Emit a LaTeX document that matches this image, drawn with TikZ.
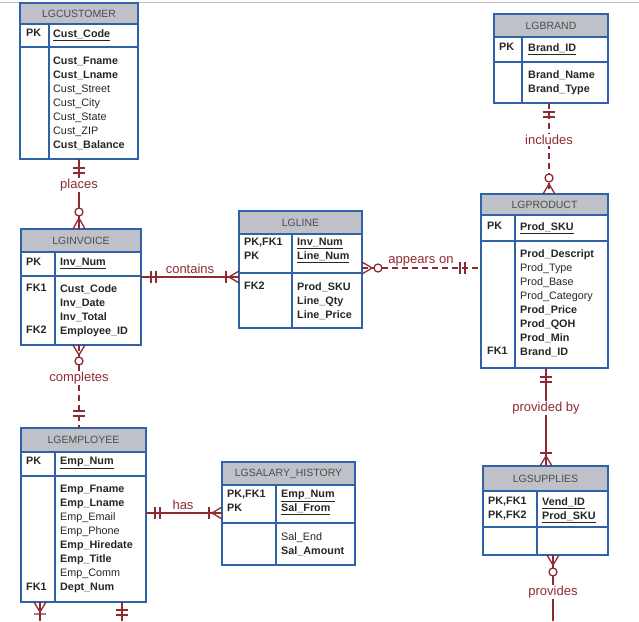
\documentclass[tikz,border=0pt]{standalone}
\usepackage{fontspec}
\setmainfont{Liberation Sans}
\begin{document}
\begin{tikzpicture}[x=1pt,y=-1pt,
  tbl/.style={draw=tblue,line width=1.2pt},
  hdr/.style={tbl,fill=hgray},
  ttl/.style={text=black!70,font=\fontsize{10.5}{12}\selectfont},
  att/.style={anchor=north west,inner sep=0pt,align=left,text=black!85,
              font=\fontsize{10.8}{14}\selectfont},
  rel/.style={draw=rred,line width=1.6pt},
  dsh/.style={rel,dash pattern=on 6pt off 4pt},
  mk/.style={draw=rred,line width=1.3pt},
  lbl/.style={text=rred,font=\fontsize{13}{15}\selectfont,inner sep=1pt}]
\definecolor{tblue}{HTML}{2F62A8}
\definecolor{hgray}{HTML}{BEC2C8}
\definecolor{rred}{HTML}{8E2B32}
\useasboundingbox (0,0) rectangle (639,621);
\draw[black!25] (0,2) -- (639,2);

% table: name, x1, x2, ytop, yhead, ypk, ybottom, xdiv, title
\newcommand\ertab[9]{%
  \draw[hdr] (#2,#4) rectangle (#3,#5);
  \node[ttl] (#1-t) at ({(#2+#3)/2},{(#4+#5)/2}) {#9};
  \draw[tbl] (#2,#5) rectangle (#3,#7);
  \draw[tbl] (#2,#6) -- (#3,#6) (#8,#5) -- (#8,#7);
  \coordinate (#1-n) at ({(#2+#3)/2},#4);
  \coordinate (#1-s) at ({(#2+#3)/2},#7);}
\newcommand\ul[1]{\underline{#1}}

% LGCUSTOMER
\ertab{cus}{20}{138}{3}{24}{47}{159}{49}{LGCUSTOMER}
\node[att] (cus-pk) at (26,29) {\textbf{PK}};
\node[att] (cus-k) at (53,29) {\textbf{\ul{Cust\_Code}}};
\node[att] (cus-b) at (53,57) {\textbf{Cust\_Fname}\\\textbf{Cust\_Lname}\\Cust\_Street\\Cust\_City\\Cust\_State\\Cust\_ZIP\\\textbf{Cust\_Balance}};

% LGBRAND
\ertab{bra}{494}{608}{14}{37}{62}{103}{522}{LGBRAND}
\node[att] (bra-pk) at (499,43) {\textbf{PK}};
\node[att] (bra-k) at (528,43) {\textbf{\ul{Brand\_ID}}};
\node[att] (bra-b) at (528,70) {\textbf{Brand\_Name}\\\textbf{Brand\_Type}};

% LGPRODUCT
\ertab{pro}{481}{608}{194}{215}{241}{368}{515}{LGPRODUCT}
\node[att] (pro-pk) at (487,222) {\textbf{PK}};
\node[att] (pro-k) at (520,222) {\textbf{\ul{Prod\_SKU}}};
\node[att] (pro-b) at (520,249) {\textbf{Prod\_Descript}\\Prod\_Type\\Prod\_Base\\Prod\_Category\\\textbf{Prod\_Price}\\\textbf{Prod\_QOH}\\\textbf{Prod\_Min}\\\textbf{Brand\_ID}};
\node[att] (pro-f) at (487,347) {\textbf{FK1}};

% LGLINE
\ertab{lin}{239}{362}{211}{234}{273}{328}{292}{LGLINE}
\node[att] (lin-pk) at (244,238) {\textbf{PK,FK1}\\\textbf{PK}};
\node[att] (lin-k) at (297,238) {\textbf{\ul{Inv\_Num}}\\\textbf{\ul{Line\_Num}}};
\node[att] (lin-f) at (244,282) {\textbf{FK2}};
\node[att] (lin-b) at (297,282) {\textbf{Prod\_SKU}\\\textbf{Line\_Qty}\\\textbf{Line\_Price}};

% LGINVOICE
\ertab{inv}{21}{141}{229}{252}{276}{345}{55}{LGINVOICE}
\node[att] (inv-pk) at (26,258) {\textbf{PK}};
\node[att] (inv-k) at (60,258) {\textbf{\ul{Inv\_Num}}};
\node[att] (inv-f) at (26,284) {\textbf{FK1}\\[28pt]\textbf{FK2}};
\node[att] (inv-b) at (60,284) {\textbf{Cust\_Code}\\\textbf{Inv\_Date}\\\textbf{Inv\_Total}\\\textbf{Employee\_ID}};

% LGEMPLOYEE
\ertab{emp}{21}{146}{428}{452}{476}{602}{55}{LGEMPLOYEE}
\node[att] (emp-pk) at (26,457) {\textbf{PK}};
\node[att] (emp-k) at (60,457) {\textbf{\ul{Emp\_Num}}};
\node[att] (emp-b) at (60,485) {\textbf{Emp\_Fname}\\\textbf{Emp\_Lname}\\Emp\_Email\\Emp\_Phone\\\textbf{Emp\_Hiredate}\\\textbf{Emp\_Title}\\Emp\_Comm\\\textbf{Dept\_Num}};
\node[att] (emp-f) at (26,583) {\textbf{FK1}};

% LGSALARY_HISTORY
\ertab{sal}{222}{355}{462}{485}{523}{565}{276}{LGSALARY\_HISTORY}
\node[att] (sal-pk) at (227,490) {\textbf{PK,FK1}\\\textbf{PK}};
\node[att] (sal-k) at (281,490) {\textbf{\ul{Emp\_Num}}\\\textbf{\ul{Sal\_From}}};
\node[att] (sal-b) at (281,532) {Sal\_End\\\textbf{Sal\_Amount}};

% LGSUPPLIES
\ertab{sup}{483}{608}{466}{491}{527}{555}{537}{LGSUPPLIES}
\node[att] (sup-pk) at (488,497) {\textbf{PK,FK1}\\\textbf{PK,FK2}};
\node[att] (sup-k) at (542,497) {\textbf{\ul{Vend\_ID}}\\\textbf{\ul{Prod\_SKU}}};

% relationship end points
\coordinate (r1a) at (79,159);  \coordinate (r1b) at (79,229);
\coordinate (r2a) at (141,277); \coordinate (r2b) at (239,277);
\coordinate (r3a) at (362,268); \coordinate (r3b) at (481,268);
\coordinate (r4a) at (549,103); \coordinate (r4b) at (549,194);
\coordinate (r5a) at (546,368); \coordinate (r5b) at (546,466);
\coordinate (r6a) at (553,555); \coordinate (r6b) at (553,621);
\coordinate (r7a) at (79,345);  \coordinate (r7b) at (79,428);
\coordinate (r8a) at (146,513); \coordinate (r8b) at (222,513);
\coordinate (r9a) at (40,602);  \coordinate (r9b) at (40,621);
\coordinate (r10a) at (122,602); \coordinate (r10b) at (122,621);

% places
\draw[rel] (r1a) -- (r1b);
\draw[mk] (73,168) -- (85,168) (73,173) -- (85,173);
\draw[mk,fill=white] (79,212) circle (4);
\draw[mk] (79,218) -- (73,229) (79,218) -- (85,229);
\node[lbl,fill=white] (l1) at (79,185) {places};
% contains
\draw[rel] (r2a) -- (r2b);
\draw[mk] (151,271) -- (151,283) (156,271) -- (156,283) (226,271) -- (226,283);
\draw[mk] (229,277) -- (239,271) (229,277) -- (239,283);
\node[lbl] (l2) at (190,269) {contains};
% appears on
\draw[dsh] (r3a) -- (r3b);
\draw[mk] (372,268) -- (362,262) (372,268) -- (362,274);
\draw[mk,fill=white] (378,268) circle (4);
\draw[mk] (460,262) -- (460,274) (465,262) -- (465,274);
\node[lbl] (l3) at (421,261) {appears on};
% includes
\draw[dsh] (r4a) -- (r4b);
\draw[mk] (543,112) -- (555,112) (543,117) -- (555,117);
\draw[mk,fill=white] (549,178) circle (4);
\draw[mk] (549,184) -- (543,194) (549,184) -- (555,194);
\node[lbl,fill=white] (l4) at (549,140) {includes};
% provided by
\draw[rel] (r5a) -- (r5b);
\draw[mk] (540,377) -- (552,377) (540,382) -- (552,382) (540,453) -- (552,453);
\draw[mk] (546,456) -- (540,466) (546,456) -- (552,466);
\node[lbl,fill=white] (l5) at (546,408) {provided by};
% provides
\draw[rel] (r6a) -- (r6b);
\draw[mk] (553,565) -- (547,555) (553,565) -- (559,555);
\draw[mk,fill=white] (553,572) circle (4);
\node[lbl,fill=white] (l6) at (553,592) {provides};
% completes
\draw[dsh] (r7a) -- (r7b);
\draw[mk] (79,355) -- (73,345) (79,355) -- (85,345);
\draw[mk,fill=white] (79,361) circle (4);
\draw[mk] (73,411) -- (85,411) (73,416) -- (85,416);
\node[lbl,fill=white] (l7) at (79,378) {completes};
% has
\draw[rel] (r8a) -- (r8b);
\draw[mk] (155,507) -- (155,519) (160,507) -- (160,519) (209,507) -- (209,519);
\draw[mk] (212,513) -- (222,507) (212,513) -- (222,519);
\node[lbl] (l8) at (183,505) {has};
% bottom of LGEMPLOYEE
\draw[rel] (r9a) -- (r9b);
\draw[mk] (40,612) -- (34,602) (40,612) -- (46,602) (34,614) -- (46,614);
\draw[rel] (r10a) -- (r10b);
\draw[mk] (116,610) -- (128,610) (116,615) -- (128,615);
\end{tikzpicture}
\end{document}
